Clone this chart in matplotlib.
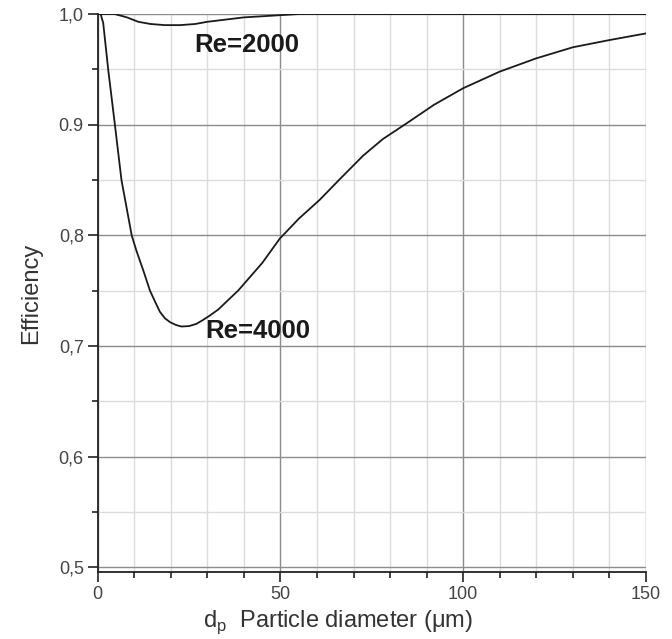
import matplotlib
matplotlib.use("Agg")
import matplotlib.pyplot as plt
from matplotlib.ticker import MultipleLocator, FixedLocator

plt.rcParams['font.family'] = ['Liberation Sans', 'DejaVu Sans']
plt.rcParams['mathtext.fontset'] = 'custom'
plt.rcParams['mathtext.rm'] = 'Liberation Sans'

# Re = 2000 curve
x_re2000 = [0, 4.7, 8, 11.1, 14.5, 18.4, 22.5, 26.6, 30, 35, 40, 45, 50,
            55, 65, 100, 150]
y_re2000 = [1.0, 1.0, 0.997, 0.993, 0.991, 0.990, 0.990, 0.991, 0.993,
            0.995, 0.997, 0.998, 0.999, 1.0, 1.0, 1.0, 1.0]

# Re = 4000 curve
x_re4000 = [0, 0.8, 1.5, 2.9, 4.7, 6.5, 9.3, 10.6, 12.5, 14.3, 15.7, 17,
            18.4, 19.8, 21.4, 22.9, 25, 27, 28.8, 30.7, 33, 35.2, 38.4, 45,
            49.8, 55, 60.7, 66, 72.6, 78, 84.4, 92, 100, 110, 120, 130, 140,
            150]
y_re4000 = [1.0, 1.0, 0.992, 0.949, 0.9, 0.85, 0.80, 0.786, 0.768, 0.75,
            0.74, 0.731, 0.725, 0.7215, 0.719, 0.7176, 0.718, 0.720, 0.7235,
            0.7276, 0.733, 0.740, 0.750, 0.775, 0.797, 0.815, 0.832, 0.85,
            0.872, 0.887, 0.901, 0.918, 0.933, 0.948, 0.960, 0.970, 0.9765,
            0.9825]

y_ticks = [0.5, 0.6, 0.7, 0.8, 0.9, 1.0]
y_ticklabels = ["0,5", "0,6", "0,7", "0,8", "0.9", "1,0"]
x_ticks = [0, 50, 100, 150]
x_ticklabels = ["0", "50", "100", "150"]

fig = plt.figure(figsize=(6.72, 6.39), dpi=100)
ax = fig.add_axes([0.1454, 0.1053, 0.8159, 0.8727])

ax.set_xlim(0, 150)
ax.set_ylim(0.496, 1.0)

ax.set_xticks(x_ticks)
ax.set_xticklabels(x_ticklabels)
ax.set_yticks(y_ticks)
ax.set_yticklabels(y_ticklabels)
ax.xaxis.set_minor_locator(MultipleLocator(10))
ax.yaxis.set_minor_locator(FixedLocator([0.55, 0.65, 0.75, 0.85, 0.95]))

ax.grid(which='major', color='#8c8c8c', linewidth=1.0)
ax.grid(which='minor', color='#dcdcdc', linewidth=1.0)
ax.set_axisbelow(True)

for s in ['top', 'right']:
    ax.spines[s].set_visible(False)
for s in ['left', 'bottom']:
    ax.spines[s].set_color('#222222')
    ax.spines[s].set_linewidth(1.3)

ax.tick_params(which='major', direction='out', length=7, width=1.2,
               color='#222222', labelsize=13, labelcolor='#444444', pad=3)
ax.tick_params(which='minor', direction='out', length=4, width=1.2,
               color='#222222')

ax.plot(x_re2000, y_re2000, color='#1a1a1a', linewidth=1.3)
ax.plot(x_re4000, y_re4000, color='#1a1a1a', linewidth=1.3)

ax.text(26.3, 0.972, "Re=2000", fontsize=18.5, fontweight='bold',
        ha='left', va='center', color='#1a1a1a')
ax.text(29.3, 0.714, "Re=4000", fontsize=18.5, fontweight='bold',
        ha='left', va='center', color='#1a1a1a')

ax.set_ylabel("Efficiency", fontsize=17, color='#333333', labelpad=12)
ax.set_xlabel(r"d$_{\rm p}$  Particle diameter (μm)", fontsize=17,
              color='#333333', x=0.438, labelpad=4)

fig.savefig("out.png", dpi=100)
